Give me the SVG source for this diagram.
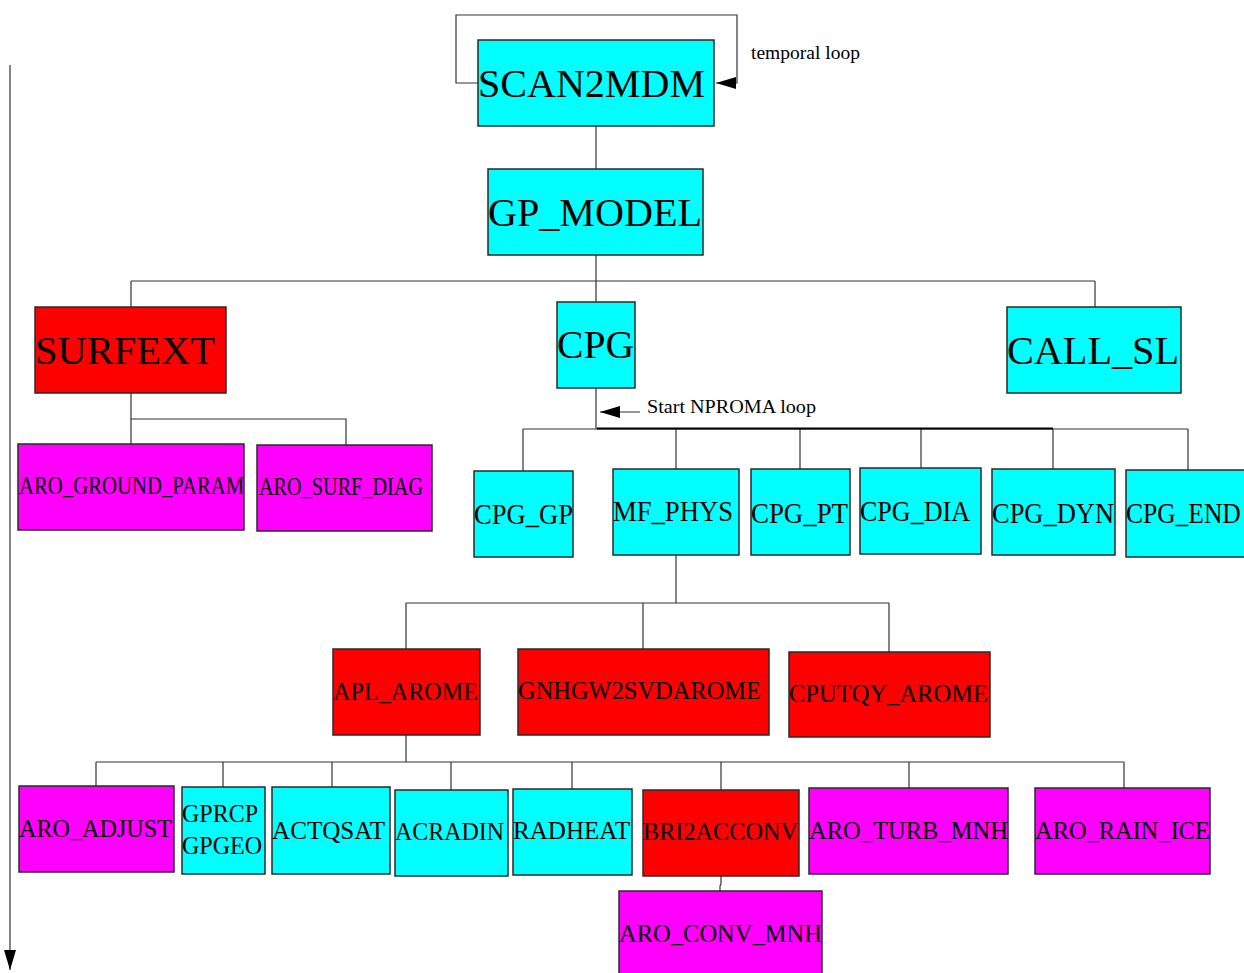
<svg xmlns="http://www.w3.org/2000/svg" width="1244" height="973" viewBox="0 0 1244 973">
  <style>
    .box { stroke: #2a2a2a; stroke-width: 1.5; }
    .cyan { fill: #00ffff; }
    .red { fill: #ff0000; }
    .mag { fill: #ff00ff; }
    .lbl { font-family: "Liberation Serif", "Times New Roman", serif; fill: #000; }
    .big { font-size: 40px; }
    .mid { font-size: 30px; }
    .sm { font-size: 25px; }
    .note { font-family: "Liberation Serif", "Times New Roman", serif; font-size: 19px; fill: #000; }
    .wire { fill: none; stroke: #333; stroke-width: 1.2; }
  </style>
  <defs>
    <marker id="headBig" markerWidth="20" markerHeight="12" refX="20" refY="6" orient="auto" markerUnits="userSpaceOnUse">
      <path d="M0,0 L20,6 L0,12 Z" fill="#000"/>
    </marker>
  </defs>

  <rect width="1244" height="973" fill="#fff"/>

  <g id="connectors">
    <!-- time axis -->
    <line class="wire" x1="10" y1="65" x2="10" y2="970" marker-end="url(#headBig)"/>
    <!-- temporal loop around SCAN2MDM -->
    <path class="wire" d="M478,83 H456 V15 H737 V83 H716" marker-end="url(#headBig)"/>
    <!-- SCAN2MDM -> GP_MODEL -->
    <line class="wire" x1="596" y1="126" x2="596" y2="169"/>
    <!-- GP_MODEL fan-out -->
    <path class="wire" d="M596,255 V281 M131,281 H1095 M131,281 V307 M596,281 V302 M1095,281 V307"/>
    <!-- SURFEXT fan-out -->
    <path class="wire" d="M131,393 V419 H346 V445 M131,419 V444"/>
    <!-- CPG fan-out -->
    <path class="wire" d="M596,388 V429 M523,429 H1188 M523,429 V471 M676,429 V469 M800,429 V469 M921,429 V468 M1053,429 V469 M1188,429 V470"/>
    <line x1="597" y1="428.5" x2="1053" y2="428.5" stroke="#000" stroke-width="2"/>
    <!-- NPROMA loop marker -->
    <line class="wire" x1="640" y1="412" x2="600" y2="412" marker-end="url(#headBig)"/>
    <!-- MF_PHYS fan-out -->
    <path class="wire" d="M676,555 V603 M406,603 H889 M406,603 V649 M643,603 V649 M889,603 V652"/>
    <!-- APL_AROME fan-out -->
    <path class="wire" d="M406,735 V762 M96,762 H1124 M96,762 V786 M223,762 V787 M332,762 V787 M451,762 V790 M572,762 V789 M721,762 V790 M909,762 V788 M1124,762 V788"/>
    <!-- BRI2ACCONV -> ARO_CONV_MNH -->
    <path class="wire" d="M721,876 V884 L720,886 V891"/>
  </g>

  <text class="note" x="751" y="59" textLength="109" lengthAdjust="spacingAndGlyphs">temporal loop</text>
  <text class="note" x="647" y="413" textLength="169" lengthAdjust="spacingAndGlyphs">Start NPROMA loop</text>

  <g id="scan2mdm">
    <rect class="box cyan" x="478" y="40" width="236" height="86"/>
    <text class="lbl big" x="478" y="97" textLength="227" lengthAdjust="spacingAndGlyphs">SCAN2MDM</text>
  </g>
  <g id="gp_model">
    <rect class="box cyan" x="488" y="169" width="215" height="86"/>
    <text class="lbl big" x="488" y="226" textLength="214" lengthAdjust="spacingAndGlyphs">GP_MODEL</text>
  </g>
  <g id="surfext">
    <rect class="box red" x="35" y="307" width="191" height="86"/>
    <text class="lbl big" x="35" y="364" textLength="180" lengthAdjust="spacingAndGlyphs">SURFEXT</text>
  </g>
  <g id="cpg">
    <rect class="box cyan" x="557" y="302" width="78" height="86"/>
    <text class="lbl big" x="557" y="358" textLength="77" lengthAdjust="spacingAndGlyphs">CPG</text>
  </g>
  <g id="call_sl">
    <rect class="box cyan" x="1007" y="307" width="174" height="86"/>
    <text class="lbl big" x="1007" y="364" textLength="172" lengthAdjust="spacingAndGlyphs">CALL_SL</text>
  </g>

  <g id="aro_ground_param">
    <rect class="box mag" x="18" y="444" width="226" height="86"/>
    <!-- condensed horizontally to fit the box -->
    <text class="lbl sm" x="0" y="0" transform="translate(19,494) scale(0.83,1)">ARO_GROUND_PARAM</text>
  </g>
  <g id="aro_surf_diag">
    <rect class="box mag" x="257" y="445" width="175" height="86"/>
    <text class="lbl sm" x="259" y="495" textLength="164" lengthAdjust="spacingAndGlyphs">ARO_SURF_DIAG</text>
  </g>

  <g id="cpg_gp">
    <rect class="box cyan" x="474" y="471" width="99" height="86"/>
    <text class="lbl mid" x="474" y="524" textLength="99" lengthAdjust="spacingAndGlyphs">CPG_GP</text>
  </g>
  <g id="mf_phys">
    <rect class="box cyan" x="613" y="469" width="126" height="86"/>
    <text class="lbl mid" x="613" y="521" textLength="120" lengthAdjust="spacingAndGlyphs">MF_PHYS</text>
  </g>
  <g id="cpg_pt">
    <rect class="box cyan" x="751" y="469" width="99" height="86"/>
    <text class="lbl mid" x="751" y="523" textLength="97" lengthAdjust="spacingAndGlyphs">CPG_PT</text>
  </g>
  <g id="cpg_dia">
    <rect class="box cyan" x="860" y="468" width="121" height="86"/>
    <text class="lbl mid" x="860" y="521" textLength="110" lengthAdjust="spacingAndGlyphs">CPG_DIA</text>
  </g>
  <g id="cpg_dyn">
    <rect class="box cyan" x="992" y="469" width="123" height="86"/>
    <text class="lbl mid" x="992" y="523" textLength="122" lengthAdjust="spacingAndGlyphs">CPG_DYN</text>
  </g>
  <g id="cpg_end">
    <rect class="box cyan" x="1126" y="470" width="122" height="87"/>
    <!-- condensed horizontally to fit the box -->
    <text class="lbl mid" x="0" y="0" transform="translate(1126,523) scale(0.85,1)">CPG_END</text>
  </g>

  <g id="apl_arome">
    <rect class="box red" x="333" y="649" width="147" height="86"/>
    <text class="lbl sm" x="333" y="700" textLength="145" lengthAdjust="spacingAndGlyphs">APL_AROME</text>
  </g>
  <g id="gnhgw2svdarome">
    <rect class="box red" x="518" y="649" width="251" height="86"/>
    <text class="lbl sm" x="518" y="699" textLength="243" lengthAdjust="spacingAndGlyphs">GNHGW2SVDAROME</text>
  </g>
  <g id="cputqy_arome">
    <rect class="box red" x="789" y="652" width="201" height="85"/>
    <text class="lbl sm" x="789" y="702" textLength="199" lengthAdjust="spacingAndGlyphs">CPUTQY_AROME</text>
  </g>

  <g id="aro_adjust">
    <rect class="box mag" x="19" y="786" width="155" height="86"/>
    <text class="lbl sm" x="19" y="837" textLength="153" lengthAdjust="spacingAndGlyphs">ARO_ADJUST</text>
  </g>
  <g id="gprcp_gpgeo">
    <rect class="box cyan" x="182" y="787" width="83" height="87"/>
    <text class="lbl sm" x="182" y="822" textLength="76" lengthAdjust="spacingAndGlyphs">GPRCP</text>
    <text class="lbl sm" x="182" y="854" textLength="80" lengthAdjust="spacingAndGlyphs">GPGEO</text>
  </g>
  <g id="actqsat">
    <rect class="box cyan" x="272" y="787" width="118" height="87"/>
    <text class="lbl sm" x="272" y="839" textLength="113" lengthAdjust="spacingAndGlyphs">ACTQSAT</text>
  </g>
  <g id="acradin">
    <rect class="box cyan" x="395" y="790" width="113" height="86"/>
    <text class="lbl sm" x="395" y="840" textLength="109" lengthAdjust="spacingAndGlyphs">ACRADIN</text>
  </g>
  <g id="radheat">
    <rect class="box cyan" x="513" y="789" width="119" height="86"/>
    <text class="lbl sm" x="513" y="839" textLength="117" lengthAdjust="spacingAndGlyphs">RADHEAT</text>
  </g>
  <g id="bri2acconv">
    <rect class="box red" x="643" y="790" width="156" height="86"/>
    <text class="lbl sm" x="643" y="840" textLength="155" lengthAdjust="spacingAndGlyphs">BRI2ACCONV</text>
  </g>
  <g id="aro_turb_mnh">
    <rect class="box mag" x="809" y="788" width="199" height="86"/>
    <text class="lbl sm" x="809" y="839" textLength="199" lengthAdjust="spacingAndGlyphs">ARO_TURB_MNH</text>
  </g>
  <g id="aro_rain_ice">
    <rect class="box mag" x="1035" y="788" width="175" height="86"/>
    <text class="lbl sm" x="1035" y="839" textLength="175" lengthAdjust="spacingAndGlyphs">ARO_RAIN_ICE</text>
  </g>
  <g id="aro_conv_mnh">
    <rect class="box mag" x="619" y="891" width="203" height="90"/>
    <text class="lbl sm" x="619" y="942" textLength="203" lengthAdjust="spacingAndGlyphs">ARO_CONV_MNH</text>
  </g>
</svg>
